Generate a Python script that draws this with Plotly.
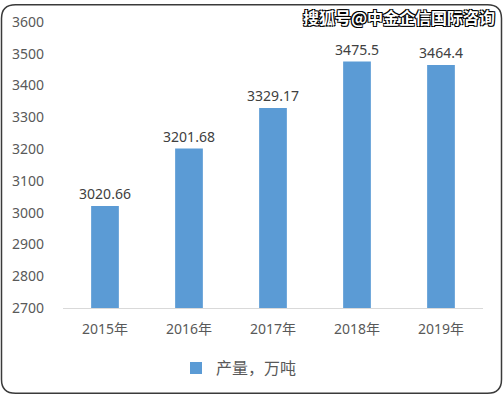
import plotly.graph_objects as go

years = ["2015年", "2016年", "2017年", "2018年", "2019年"]
output = [3020.66, 3201.68, 3329.17, 3475.5, 3464.4]
labels = ["3020.66", "3201.68", "3329.17", "3475.5", "3464.4"]
series_name = "产量，万吨"
y_ticks = [2700, 2800, 2900, 3000, 3100, 3200, 3300, 3400, 3500, 3600]

W, H = 503, 397
ML, MR, MT, MB = 63, 20, 19, 88
FONT = "Noto Sans, Noto Sans CJK SC, sans-serif"

fig = go.Figure()
fig.add_trace(go.Bar(
    x=years, y=output, name=series_name,
    marker=dict(color="#5B9BD5", line=dict(width=0)),
    text=labels, textposition="outside", cliponaxis=False, constraintext="none",
    textfont=dict(family=FONT, size=14, color="#404040"),
    width=0.33,
))

pw = W - ML - MR
ph = H - MT - MB

def px_x(p):
    return (p - ML) / pw

def px_y(p):
    return 1 - (p - MT) / ph

# rounded border
x0, y0, x1, y1, r = 1.5, 1.5, 501.5, 395.5, 14
path = (
    f"M {px_x(x0 + r)},{px_y(y0)} L {px_x(x1 - r)},{px_y(y0)} "
    f"Q {px_x(x1)},{px_y(y0)} {px_x(x1)},{px_y(y0 + r)} "
    f"L {px_x(x1)},{px_y(y1 - r)} Q {px_x(x1)},{px_y(y1)} {px_x(x1 - r)},{px_y(y1)} "
    f"L {px_x(x0 + r)},{px_y(y1)} Q {px_x(x0)},{px_y(y1)} {px_x(x0)},{px_y(y1 - r)} "
    f"L {px_x(x0)},{px_y(y0 + r)} Q {px_x(x0)},{px_y(y0)} {px_x(x0 + r)},{px_y(y0)} Z"
)
fig.add_shape(type="path", path=path, xref="paper", yref="paper",
              line=dict(color="#3a3a3a", width=1.5), layer="above")

fig.add_annotation(
    text="<b>搜狐号@中金企信国际咨询</b>", xref="paper", yref="paper",
    x=px_x(497), y=px_y(14), xanchor="right", yanchor="middle", showarrow=False,
    font=dict(family="Noto Sans CJK SC", size=16, color="white",
              shadow="1px 1px 0 #000, -1px -1px 0 #000, 1px -1px 0 #000, -1px 1px 0 #000"),
)

fig.update_layout(
    width=W, height=H,
    margin=dict(l=ML, r=MR, t=MT, b=MB),
    paper_bgcolor="white", plot_bgcolor="white",
    showlegend=True,
    legend=dict(orientation="h", x=px_x(176), xanchor="left", y=px_y(370), yanchor="middle",
                font=dict(family=FONT, size=16, color="#595959"), itemwidth=30),
    bargap=0.67,
    xaxis=dict(showgrid=False, showline=True, linecolor="#D9D9D9", linewidth=1,
               ticks="", ticklabelstandoff=8,
               tickfont=dict(family=FONT, size=14, color="#595959")),
    yaxis=dict(range=[2700, 3600], tickvals=y_ticks, showgrid=False, zeroline=False,
               showline=False, ticks="", ticklabelstandoff=18,
               tickfont=dict(family=FONT, size=14, color="#595959")),
)

fig.write_html("out.html")
